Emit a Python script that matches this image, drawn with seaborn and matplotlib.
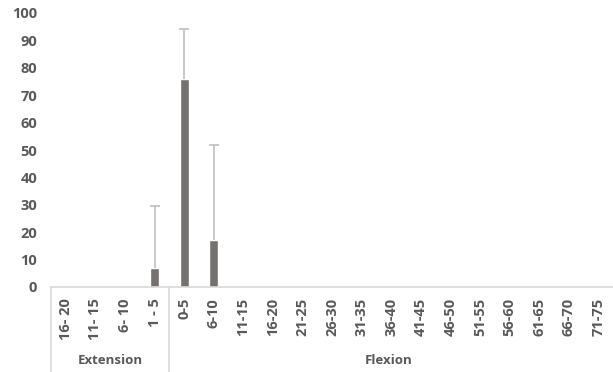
import matplotlib
matplotlib.use("Agg")
import matplotlib.pyplot as plt
import matplotlib.transforms as mtransforms
import seaborn as sns
import numpy as np
import pandas as pd

# categories (Extension group then Flexion group)
ext_labels = ["16- 20", "11- 15", "6- 10", "1 - 5"]
flex_labels = ["0-5", "6-10", "11-15", "16-20", "21-25", "26-30", "31-35",
               "36-40", "41-45", "46-50", "51-55", "56-60", "61-65", "66-70", "71-75"]
ext_values = [0, 0, 0, 7]
flex_values = [76, 17, 0, 0, 0, 0, 0, 0, 0, 0, 0, 0, 0, 0, 0]
ext_err_top = [0, 0, 0, 29.6]
flex_err_top = [94.2, 51.8, 0, 0, 0, 0, 0, 0, 0, 0, 0, 0, 0, 0, 0]
groups = ["Extension", "Flexion"]

labels = ext_labels + flex_labels
values = ext_values + flex_values
err_top = ext_err_top + flex_err_top
df = pd.DataFrame({"cat": labels, "val": values, "top": err_top})

sns.set_style("white")
plt.rcParams['font.family'] = ['Open Sans', 'DejaVu Sans']

fig = plt.figure(figsize=(6.13, 3.72), dpi=100)
ax = fig.add_axes([51/613, 1-287/372, 1-51/613, 274/372])

bar_col = "#767171"
txt_col = "#595959"
line_col = "#d9d9d9"

sns.barplot(data=df, x="cat", y="val", color=bar_col, width=0.3,
            saturation=1, ax=ax, errorbar=None)

# one-sided error bars (upper only), lower cap hidden
pos = np.arange(len(df))
mask = (df["top"] > 0).values
up = (df["top"] - df["val"])[mask].values
_, caps, _ = ax.errorbar(pos[mask], df["val"][mask], yerr=[np.zeros_like(up), up],
                         fmt="none", ecolor="#bfbfbf", elinewidth=1.2,
                         capsize=3.5, capthick=1.2, zorder=1)
caps[0].set_visible(False)

ax.set_xlim(-0.5, len(df) - 0.5)
ax.set_ylim(0, 100)
ax.set_yticks(range(0, 101, 10))
ax.set_xlabel("")
ax.set_ylabel("")
for s in ["top", "right", "left"]:
    ax.spines[s].set_visible(False)
ax.spines["bottom"].set_color(line_col)
ax.spines["bottom"].set_linewidth(1.2)
ax.tick_params(axis="both", length=0, colors=txt_col)
ax.tick_params(axis="y", pad=10, labelsize=10.5)
ax.tick_params(axis="x", pad=8, labelsize=10.5)
ax.set_xticks(pos)
ax.set_xticklabels(labels, rotation=90, fontweight="bold", color=txt_col)
for t in ax.get_yticklabels():
    t.set_fontweight("bold")

# group separators and group labels
trans = mtransforms.blended_transform_factory(ax.transData, ax.transAxes)
for xv in [-0.5, len(ext_labels) - 0.5]:
    ax.plot([xv, xv], [0, -85/274], transform=trans, color=line_col,
            lw=1.2, clip_on=False)
ax.text((len(ext_labels) - 1) / 2, -73/274, groups[0], transform=trans,
        ha="center", va="center", fontsize=9.5, fontweight="bold", color=txt_col)
ax.text(len(ext_labels) + 6.9, -73/274, groups[1], transform=trans,
        ha="center", va="center", fontsize=9.5, fontweight="bold", color=txt_col)

fig.savefig("out.png", dpi=100)
